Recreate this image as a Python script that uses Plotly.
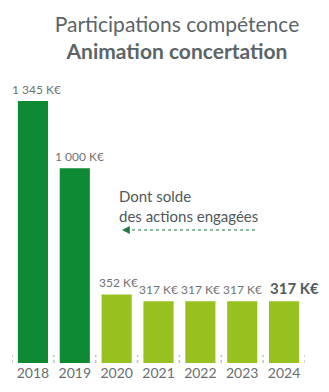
import plotly.graph_objects as go

years = ["2018", "2019", "2020", "2021", "2022", "2023", "2024"]
values = [1345, 1000, 352, 317, 317, 317, 317]
bar_colors = ["#0e8a35", "#0e8a35", "#97c11f", "#97c11f", "#97c11f", "#97c11f", "#97c11f"]
label_shift = [4, 5, 2, 0, 0, 0, 10]

W, H = 329, 392
ML, MR, MT, MB = 12, 24, 80, 29
PW, PH = W - ML - MR, H - MT - MB


def px_x(px):
    return (px - ML) / PW


def px_y(py):
    return (H - MB - py) / PH


def fmt(v):
    return f"{v:,}".replace(",", " ") + " K€"


fig = go.Figure(
    go.Bar(
        x=years,
        y=values,
        marker=dict(color=bar_colors, line=dict(width=0)),
        hoverinfo="skip",
    )
)

# value labels above each bar; the latest year is highlighted
for i, v in enumerate(values):
    last = i == len(values) - 1
    fig.add_annotation(
        x=i, y=v, xref="x", yref="y",
        text=("<b>" + fmt(v) + "</b>") if last else fmt(v),
        showarrow=False, yanchor="bottom",
        yshift=2 if last else 2, xshift=label_shift[i],
        font=dict(family="Lato", size=15 if last else 12,
                  color="#555c60" if last else "#6f7375"),
    )

# short dotted separators between categories
for i in range(len(years) + 1):
    fig.add_shape(
        type="line", xref="x", yref="paper",
        x0=i - 0.5, x1=i - 0.5, y0=0, y1=px_y(355),
        line=dict(color="#bfc3c5", width=1.5, dash="dot"),
    )

# dotted arrow pointing at the lighter bars
fig.add_shape(
    type="line", xref="paper", yref="paper",
    x0=px_x(255), x1=px_x(126), y0=px_y(230), y1=px_y(230),
    line=dict(color="#1d7a3c", width=1.2, dash="dot"),
)
fig.add_annotation(
    xref="paper", yref="paper", x=px_x(122), y=px_y(230),
    ax=8, ay=0, showarrow=True, arrowhead=2, arrowsize=1.3,
    arrowwidth=1.2, arrowcolor="#1d7a3c", text="",
)
fig.add_annotation(
    xref="paper", yref="paper", x=px_x(117), y=px_y(206),
    xanchor="left", yanchor="middle", align="left", showarrow=False,
    text="Dont solde<br>des actions engagées",
    font=dict(family="Lato", size=15, color="#4f585c"),
)

fig.update_layout(
    width=W, height=H,
    margin=dict(l=ML, r=MR, t=MT, b=MB),
    paper_bgcolor="white", plot_bgcolor="white",
    bargap=0.28,
    showlegend=False,
    title=dict(
        text="Participations compétence<br><b>Animation concertation</b>",
        x=177 / W, xanchor="center", y=1 - 32 / H, yanchor="middle",
        font=dict(family="Lato", size=21, color="#5b6468"),
    ),
    xaxis=dict(
        type="category",
        showgrid=False, showline=False, zeroline=False, ticks="",
        tickfont=dict(family="Lato", size=14, color="#686d70"),
        range=[-0.5, len(years) - 0.5],
    ),
    yaxis=dict(
        visible=False, range=[0, PH / (262 / 1345)],
    ),
)

fig.write_html("out.html")
